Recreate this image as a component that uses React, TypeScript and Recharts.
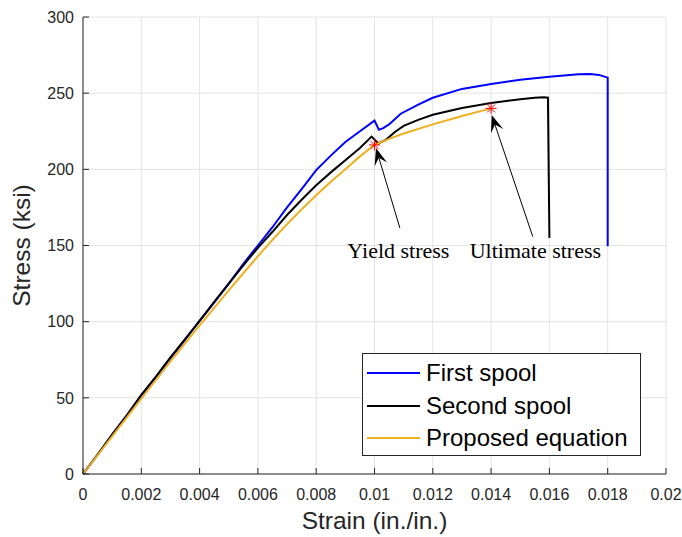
import React from 'react';
import { LineChart, Line, XAxis, YAxis, CartesianGrid, Legend, ReferenceDot, ReferenceLine, Label } from 'recharts';

// measured curves (strain in in./in., stress in ksi)
const firstStrain = [0, 0.0005, 0.001, 0.0015, 0.002, 0.0025, 0.003, 0.0035, 0.004, 0.0045, 0.005, 0.0055, 0.006, 0.0065, 0.007, 0.0075, 0.008, 0.0085, 0.009, 0.0095, 0.01, 0.01015, 0.0103, 0.0105, 0.0109, 0.0115, 0.012, 0.013, 0.014, 0.015, 0.016, 0.017, 0.0174, 0.0177, 0.018, 0.018];
const firstStress = [0, 12.5, 25.5, 38, 51.5, 63.5, 76, 88, 100.5, 112.5, 125, 138, 150, 162, 175, 187, 199.5, 209, 218, 225, 232, 226, 227, 229.5, 236.5, 242.5, 247, 252.8, 256, 258.8, 260.8, 262.4, 262.6, 262, 260.2, 149.5];

const secondStrain = [0, 0.0005, 0.001, 0.0015, 0.002, 0.0025, 0.003, 0.0035, 0.004, 0.0045, 0.005, 0.0055, 0.006, 0.0065, 0.007, 0.0075, 0.008, 0.0085, 0.009, 0.0095, 0.0099, 0.01013, 0.0104, 0.0107, 0.011, 0.0115, 0.012, 0.013, 0.014, 0.015, 0.0155, 0.0158, 0.01595, 0.016];
const secondStress = [0, 12.8, 26, 38.5, 52, 64, 76.5, 88.5, 100.5, 113, 125, 137, 148.5, 159, 170, 180, 189.5, 198, 206, 214, 221.5, 217, 219.5, 224.5, 228.5, 232.5, 235.8, 240.2, 243.6, 246, 247, 247.3, 247, 155];

const proposedStrain = [0, 0.001, 0.002, 0.003, 0.004, 0.005, 0.006, 0.0065, 0.007, 0.0075, 0.008, 0.0085, 0.009, 0.0095, 0.01, 0.0105, 0.011, 0.012, 0.013, 0.014];
const proposedStress = [0, 24.7, 49.5, 74, 97.5, 120.5, 143, 153.7, 164, 173.7, 183, 191.8, 200, 208.5, 216, 220, 223.5, 229.5, 235, 240];

const seriesNames = ['First spool', 'Second spool', 'Proposed equation'];
const seriesColors = ['#0000ff', '#000000', '#EDB120'];

const xTicks = [0, 0.002, 0.004, 0.006, 0.008, 0.01, 0.012, 0.014, 0.016, 0.018, 0.02];
const yTicks = [0, 50, 100, 150, 200, 250, 300];

// annotations
const markStrain = [0.01, 0.014];
const markStress = [216, 240];
const noteText = ['Yield stress', 'Ultimate stress'];
const noteStrain = [0.01082, 0.01552];
const noteStress = [141.6, 141.6];
const arrowFromStrain = [0.01087, 0.01543];
const arrowFromStress = [161.5, 155.8];
const arrowToStrain = [0.01005, 0.01402];
const arrowToStress = [214, 235.7];

const toRows = (xs: number[], ys: number[]) => xs.map((x, i) => ({ strain: x, stress: ys[i] }));
const seriesData = [
  toRows(firstStrain, firstStress),
  toRows(secondStrain, secondStress),
  toRows(proposedStrain, proposedStress),
];

const AXIS = '#262626';
const SANS = '"Liberation Sans", Arial, sans-serif';
const SERIF = '"Liberation Serif", "Times New Roman", serif';

const Star = (p: any) => {
  const { cx, cy } = p;
  const r = 5.5;
  const d = r * 0.72;
  return (
    <g stroke="#ff0000" strokeWidth={1}>
      <line x1={cx - r} y1={cy} x2={cx + r} y2={cy} />
      <line x1={cx} y1={cy - r} x2={cx} y2={cy + r} />
      <line x1={cx - d} y1={cy - d} x2={cx + d} y2={cy + d} />
      <line x1={cx - d} y1={cy + d} x2={cx + d} y2={cy - d} />
    </g>
  );
};

const Arrow = (p: any) => {
  const { x1, y1, x2, y2 } = p;
  const len = Math.hypot(x1 - x2, y1 - y2) || 1;
  const ux = (x1 - x2) / len;
  const uy = (y1 - y2) / len;
  const nx = -uy;
  const ny = ux;
  const L = 17;
  const W = 6.5;
  const pts = [
    [x2, y2],
    [x2 + ux * L + nx * W, y2 + uy * L + ny * W],
    [x2 + ux * L * 0.6, y2 + uy * L * 0.6],
    [x2 + ux * L - nx * W, y2 + uy * L - ny * W],
  ];
  return (
    <g>
      <line x1={x1} y1={y1} x2={x2 + ux * L * 0.6} y2={y2 + uy * L * 0.6} stroke="#000" strokeWidth={1} />
      <polygon points={pts.map(q => q.join(',')).join(' ')} fill="#000" />
    </g>
  );
};

const LegendBox = () => (
  <div style={{ width: 279, height: 103, boxSizing: 'border-box', border: `1px solid ${AXIS}`, background: '#fff', paddingTop: 3 }}>
    {seriesNames.map((name, i) => (
      <div key={name} style={{ display: 'flex', alignItems: 'center', height: 32.5 }}>
        <svg width={63} height={6} style={{ flex: 'none' }}>
          <line x1={4} y1={3} x2={57} y2={3} stroke={seriesColors[i]} strokeWidth={2} />
        </svg>
        <span style={{ fontFamily: SANS, fontSize: 24, color: '#000', lineHeight: 1 }}>{name}</span>
      </div>
    ))}
  </div>
);

const tickStyle = { fontFamily: SANS, fontSize: 16, fill: AXIS };
const noTick = () => <g />;

export default function App() {
  return (
    <div style={{ position: 'absolute', left: 0, top: 0, background: '#fff' }}>
      <LineChart width={682} height={537} margin={{ top: 17, right: 16, bottom: 0, left: 0 }}>
        <CartesianGrid stroke="#e3e3e3" strokeWidth={1} horizontalValues={yTicks} verticalValues={xTicks} />
        <XAxis
          dataKey="strain"
          type="number"
          domain={[0, 0.02]}
          ticks={xTicks}
          tickFormatter={(v: number) => String(v)}
          height={63}
          tickSize={-6}
          tickMargin={21}
          stroke={AXIS}
          tick={tickStyle}
          interval={0}
        >
          <Label value="Strain (in./in.)" position="insideBottom" offset={8} style={{ fontFamily: SANS, fontSize: 24.5, fill: AXIS }} />
        </XAxis>
        <XAxis xAxisId="top" orientation="top" type="number" domain={[0, 0.02]} ticks={xTicks} height={0} tickSize={-6} stroke={AXIS} tick={noTick} interval={0} />
        <YAxis
          type="number"
          domain={[0, 300]}
          ticks={yTicks}
          width={83}
          tickSize={-6}
          tickMargin={15}
          stroke={AXIS}
          tick={tickStyle}
          interval={0}
        >
          <Label value="Stress (ksi)" angle={-90} position="insideLeft" offset={21} style={{ fontFamily: SANS, fontSize: 24.5, fill: AXIS, textAnchor: 'middle' }} />
        </YAxis>
        <YAxis yAxisId="right" orientation="right" type="number" domain={[0, 300]} ticks={yTicks} width={0} tickSize={-6} stroke={AXIS} tick={noTick} interval={0} />

        {seriesData.map((data, i) => (
          <Line
            key={seriesNames[i]}
            data={data}
            dataKey="stress"
            name={seriesNames[i]}
            type="linear"
            stroke={seriesColors[i]}
            strokeWidth={2}
            dot={false}
            activeDot={false}
            isAnimationActive={false}
          />
        ))}

        {markStrain.map((x, i) => (
          <ReferenceDot key={'m' + i} x={x} y={markStress[i]} r={5} shape={Star} />
        ))}
        {arrowFromStrain.map((x, i) => (
          <ReferenceLine
            key={'a' + i}
            segment={[{ x, y: arrowFromStress[i] }, { x: arrowToStrain[i], y: arrowToStress[i] }]}
            shape={Arrow}
          />
        ))}
        {noteStrain.map((x, i) => (
          <ReferenceDot
            key={'t' + i}
            x={x}
            y={noteStress[i]}
            r={0}
            shape={(p: any) => (
              <text x={p.cx} y={p.cy} textAnchor="middle" fontFamily={SERIF} fontSize={22} fill="#000">
                {noteText[i]}
              </text>
            )}
          />
        ))}
        <Legend
          layout="vertical"
          align="center"
          verticalAlign="middle"
          content={<LegendBox />}
          wrapperStyle={{ left: 362, top: 353, width: 279, height: 103 }}
        />
      </LineChart>
    </div>
  );
}
